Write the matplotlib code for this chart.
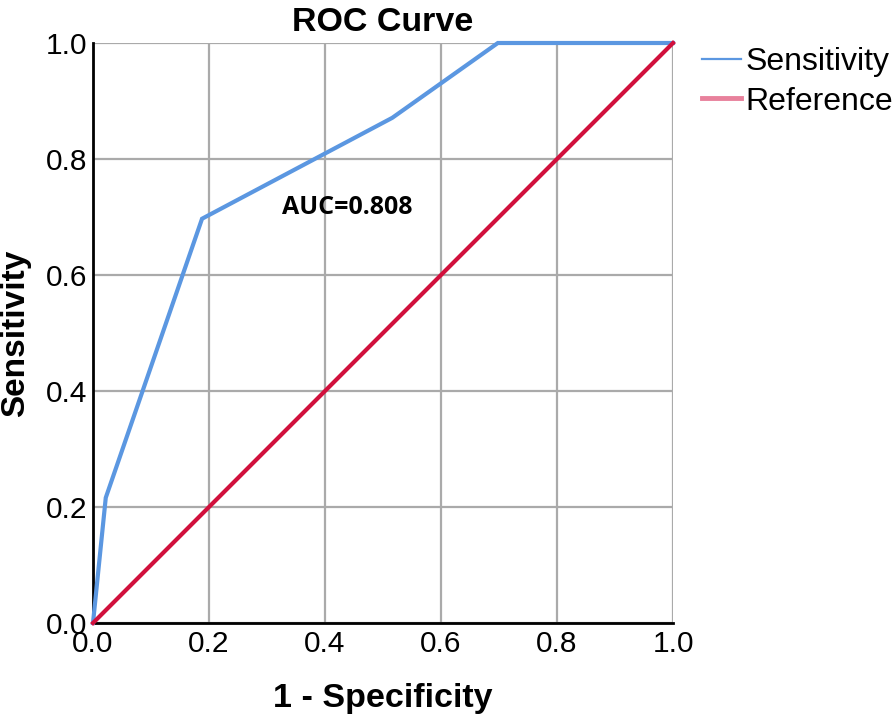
import matplotlib
matplotlib.use("Agg")
import matplotlib.pyplot as plt
from matplotlib.lines import Line2D

fpr = [0.0, 0.022, 0.188, 0.516, 0.698, 1.0]
tpr = [0.0, 0.216, 0.697, 0.871, 1.0, 1.0]
ref_x = [0.0, 1.0]
ref_y = [0.0, 1.0]
ticks = [0.0, 0.2, 0.4, 0.6, 0.8, 1.0]
auc_text = "AUC=0.808"

C_SENS = "#5b97e1"
C_REF = "#d1103c"
C_REF_LEG = "#e8819c"

plt.rcParams["font.family"] = ["Liberation Sans", "DejaVu Sans"]

fig = plt.figure(figsize=(8.96, 7.16), dpi=100)
ax = fig.add_axes([93 / 896, 93 / 716, 580 / 896, 580 / 716])

ax.plot(fpr, tpr, color=C_SENS, linewidth=3.0, solid_joinstyle="miter", zorder=3, clip_on=False)
ax.plot(ref_x, ref_y, color=C_REF, linewidth=3.0, zorder=4, clip_on=False)

ax.set_xlim(0, 1)
ax.set_ylim(0, 1)
ax.set_xticks(ticks)
ax.set_yticks(ticks)
ax.set_xticklabels([f"{t:.1f}" for t in ticks])
ax.set_yticklabels([f"{t:.1f}" for t in ticks])
ax.tick_params(length=0, labelsize=21.5, pad=4)
ax.tick_params(axis="x", pad=5)
ax.grid(True, color="#aaaaaa", linewidth=1.6)
ax.set_axisbelow(True)

for s in ["top", "right"]:
    ax.spines[s].set_visible(False)
for s in ["left", "bottom"]:
    ax.spines[s].set_linewidth(2)
    ax.spines[s].set_color("black")
    ax.spines[s].set_zorder(2)

ax.set_title("ROC Curve", fontsize=24.5, fontweight="bold", pad=9)
ax.set_xlabel("1 - Specificity", fontsize=24.5, fontweight="bold", labelpad=18)
ax.set_ylabel("Sensitivity", fontsize=24, fontweight="bold", labelpad=11)

ax.text(0.326, 0.717, auc_text, fontsize=18, fontweight="bold",
        family=["Open Sans", "DejaVu Sans"], transform=ax.transData, va="center")

handles = [Line2D([], [], color=C_SENS, linewidth=1.6),
           Line2D([], [], color=C_REF_LEG, linewidth=3.5)]
fig.legend(handles, ["Sensitivity", "Reference"], loc="upper left",
           bbox_to_anchor=(702 / 896, 1 - 47 / 716), frameon=False,
           fontsize=23, handlelength=1.22, handletextpad=0.15,
           labelspacing=0.3, borderaxespad=0, borderpad=0)

fig.savefig("out.png", dpi=100)
